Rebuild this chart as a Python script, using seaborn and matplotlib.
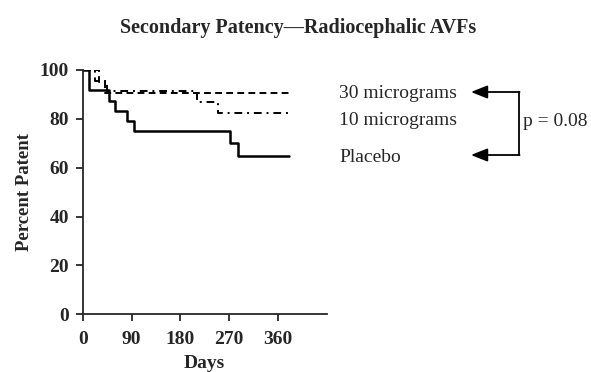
import matplotlib
matplotlib.use("Agg")
import matplotlib.pyplot as plt
import seaborn as sns
import pandas as pd
from matplotlib.lines import Line2D

# Data (Kaplan-Meier style step curves)
placebo_days = [0, 12, 48, 60, 82, 95, 272, 287, 380]
placebo_pct = [100, 91.7, 87.5, 83.3, 79.2, 75.0, 70.0, 65.0, 65.0]

mcg10_days = [0, 22, 45, 210, 250, 380]
mcg10_pct = [100, 95.7, 91.3, 87.0, 82.6, 82.6]

mcg30_days = [0, 30, 42, 380]
mcg30_pct = [100, 95.2, 90.5, 90.5]

x_ticks = [0, 90, 180, 270, 360]
y_ticks = [0, 20, 40, 60, 80, 100]

series_labels = ["30 micrograms", "10 micrograms", "Placebo"]

sns.set_style("ticks")
plt.rcParams['font.family'] = ['Liberation Serif', 'DejaVu Serif']

W, H = 591, 372
fig = plt.figure(figsize=(W / 100, H / 100), dpi=100)
ax = fig.add_axes([82.7 / W, 1 - 314.3 / H, (326.7 - 82.7) / W, (314.3 - 70) / H])

df_p = pd.DataFrame({"Days": placebo_days, "Pct": placebo_pct})
df_10 = pd.DataFrame({"Days": mcg10_days, "Pct": mcg10_pct})
df_30 = pd.DataFrame({"Days": mcg30_days, "Pct": mcg30_pct})

sns.lineplot(data=df_p, x="Days", y="Pct", ax=ax, color="black", lw=1.8,
             drawstyle="steps-post", estimator=None)
sns.lineplot(data=df_10, x="Days", y="Pct", ax=ax, color="black", lw=1.4,
             drawstyle="steps-post", estimator=None, linestyle=(0, (4, 2.5, 1, 2.5)))
sns.lineplot(data=df_30, x="Days", y="Pct", ax=ax, color="black", lw=1.4,
             drawstyle="steps-post", estimator=None, linestyle=(0, (3.5, 2.2)))

ax.set_xlim(0, 450)
ax.set_ylim(0, 100)
ax.set_xticks(x_ticks)
ax.set_yticks(y_ticks)
sns.despine(ax=ax)
for s in ["left", "bottom"]:
    ax.spines[s].set_linewidth(1.3)
ax.tick_params(direction="out", length=5, width=1.3, labelsize=14)
ax.tick_params(axis="x", pad=7)
ax.tick_params(axis="y", pad=5)
for lab in ax.get_xticklabels() + ax.get_yticklabels():
    lab.set_fontweight("bold")
ax.set_xlabel("Days", fontsize=14, fontweight="bold", labelpad=5)
ax.set_ylabel("Percent Patent", fontsize=13.5, fontweight="bold", labelpad=5)


def fx(px):
    return px / W


def fy(py):
    return 1 - py / H


fig.text(fx(298), fy(28), "Secondary Patency\u2014Radiocephalic AVFs",
         ha="center", va="center", fontsize=14.5, fontweight="bold")

label_y = [93, 121, 157]
for lab, yy in zip(series_labels, label_y):
    fig.text(fx(339), fy(yy), lab, ha="left", va="center", fontsize=14)

# bracket with arrows
bx = 519
fig.add_artist(Line2D([fx(bx), fx(bx)], [fy(92), fy(155)], transform=fig.transFigure,
                      color="black", lw=1.3))
for yy in (92, 155):
    ax.annotate("", xy=(fx(471), fy(yy)), xytext=(fx(bx + 0.6), fy(yy)),
                xycoords="figure fraction", textcoords="figure fraction",
                arrowprops=dict(arrowstyle="-|>,head_length=1.0,head_width=0.4",
                                color="black", lw=1.3, shrinkA=0, shrinkB=0))
fig.text(fx(523), fy(122), "p = 0.08", ha="left", va="center", fontsize=14)

fig.savefig("out.png", dpi=100)
